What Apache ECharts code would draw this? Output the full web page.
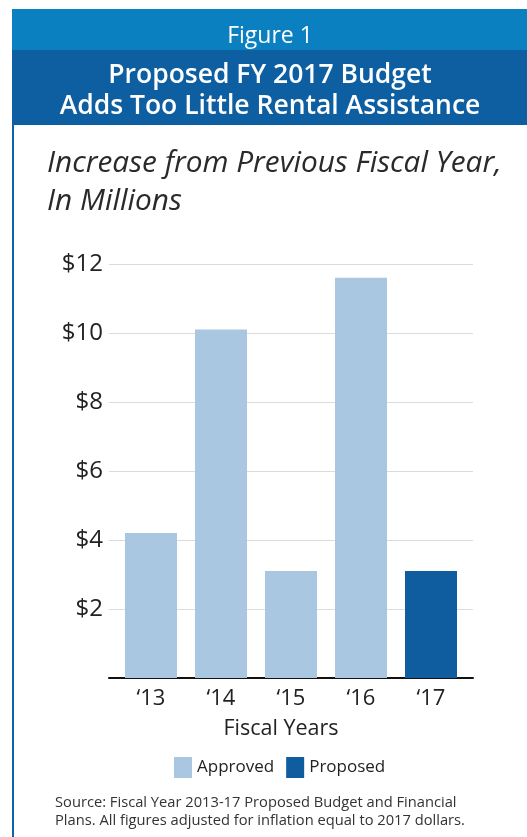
<!DOCTYPE html>
<html><head><meta charset="utf-8">
<script src="https://cdn.jsdelivr.net/npm/echarts@6/dist/echarts.min.js"></script>
<style>html,body{margin:0;padding:0;background:#fff}#c{width:527px;height:837px}</style>
</head><body><div id="c"></div>
<script>
var categories = ['\u201813', '\u201814', '\u201815', '\u201816', '\u201817'];
var approved = [4.2, 10.1, 3.1, 11.6, '-'];
var proposed = ['-', '-', '-', '-', 3.1];
var yTicks = [0, 2, 4, 6, 8, 10, 12];

var FONT = '"Open Sans", sans-serif';
var chart = echarts.init(document.getElementById('c'), null, {renderer: 'canvas'});
var option = {
  animation: false,
  backgroundColor: '#fff',
  grid: [
    {left: 109, width: 364, top: 264, height: 414},
    {left: 116, width: 350, top: 264, height: 414}
  ],
  xAxis: [
    {gridIndex: 0, type: 'value', min: 0, max: 1, axisLine: {show: true, lineStyle: {color: '#111', width: 2}},
     axisTick: {show: false}, axisLabel: {show: false}, splitLine: {show: false}},
    {gridIndex: 1, type: 'category', data: categories, axisLine: {show: false}, axisTick: {show: false},
     axisLabel: {fontFamily: FONT, fontSize: 22, color: '#222', margin: 10}}
  ],
  yAxis: [
    {gridIndex: 0, type: 'value', min: yTicks[0], max: yTicks[yTicks.length - 1], interval: 2,
     axisLine: {show: false}, axisTick: {show: false},
     axisLabel: {fontFamily: FONT, fontSize: 24, color: '#222', margin: 6,
       formatter: function (v) { return v === 0 ? '' : '$' + v; }},
     splitLine: {lineStyle: {color: '#dcdcdc', width: 1}}},
    {gridIndex: 1, type: 'value', min: 0, max: 12, show: false}
  ],
  legend: {
    left: 174, top: 757, padding: 0, itemWidth: 18, itemHeight: 21, itemGap: 12,
    icon: 'rect',
    textStyle: {fontFamily: FONT, fontSize: 17, color: '#222', padding: [0, 0, 0, 0]},
    data: ['Approved', 'Proposed']
  },
  series: [
    {name: 'Approved', type: 'bar', xAxisIndex: 1, yAxisIndex: 1, data: approved, barWidth: 52, barGap: '-100%',
     itemStyle: {color: '#a9c7e0'}},
    {name: 'Proposed', type: 'bar', xAxisIndex: 1, yAxisIndex: 1, data: proposed, barWidth: 52, barGap: '-100%',
     itemStyle: {color: '#0f5d9f'}}
  ],
  graphic: [
    {type: 'rect', shape: {x: 12, y: 9, width: 515, height: 41}, style: {fill: '#0a80c0'}},
    {type: 'rect', shape: {x: 12, y: 50, width: 515, height: 75}, style: {fill: '#0e5fa2'}},
    {type: 'rect', shape: {x: 12, y: 125, width: 2, height: 712}, style: {fill: '#0e62aa'}},
    {type: 'text', x: 270, y: 36, style: {text: 'Figure 1', fill: '#fff', font: '400 23px "Open Sans", sans-serif', textAlign: 'center', textVerticalAlign: 'middle'}},
    {type: 'text', x: 270, y: 75, style: {text: 'Proposed FY 2017 Budget', fill: '#fff', font: '600 26.5px "Open Sans", sans-serif', textAlign: 'center', textVerticalAlign: 'middle'}},
    {type: 'text', x: 270, y: 106, style: {text: 'Adds Too Little Rental Assistance', fill: '#fff', font: '600 26.5px "Open Sans", sans-serif', textAlign: 'center', textVerticalAlign: 'middle'}},
    {type: 'text', x: 47, y: 164, style: {text: 'Increase from Previous Fiscal Year,', fill: '#2a2a2a', font: 'italic 400 29.8px "Open Sans", sans-serif', textAlign: 'left', textVerticalAlign: 'middle'}},
    {type: 'text', x: 47, y: 202, style: {text: 'In Millions', fill: '#2a2a2a', font: 'italic 400 29.8px "Open Sans", sans-serif', textAlign: 'left', textVerticalAlign: 'middle'}},
    {type: 'text', x: 281, y: 729, style: {text: 'Fiscal Years', fill: '#222', font: '400 21.5px "Open Sans", sans-serif', textAlign: 'center', textVerticalAlign: 'middle'}},
    {type: 'text', x: 55, y: 803, style: {text: 'Source: Fiscal Year 2013-17 Proposed Budget and Financial', fill: '#333', font: '400 14.7px "Open Sans", sans-serif', textAlign: 'left', textVerticalAlign: 'middle'}},
    {type: 'text', x: 55, y: 821, style: {text: 'Plans. All figures adjusted for inflation equal to 2017 dollars.', fill: '#333', font: '400 14.7px "Open Sans", sans-serif', textAlign: 'left', textVerticalAlign: 'middle'}}
  ]
};
chart.setOption(option);
</script></body></html>
